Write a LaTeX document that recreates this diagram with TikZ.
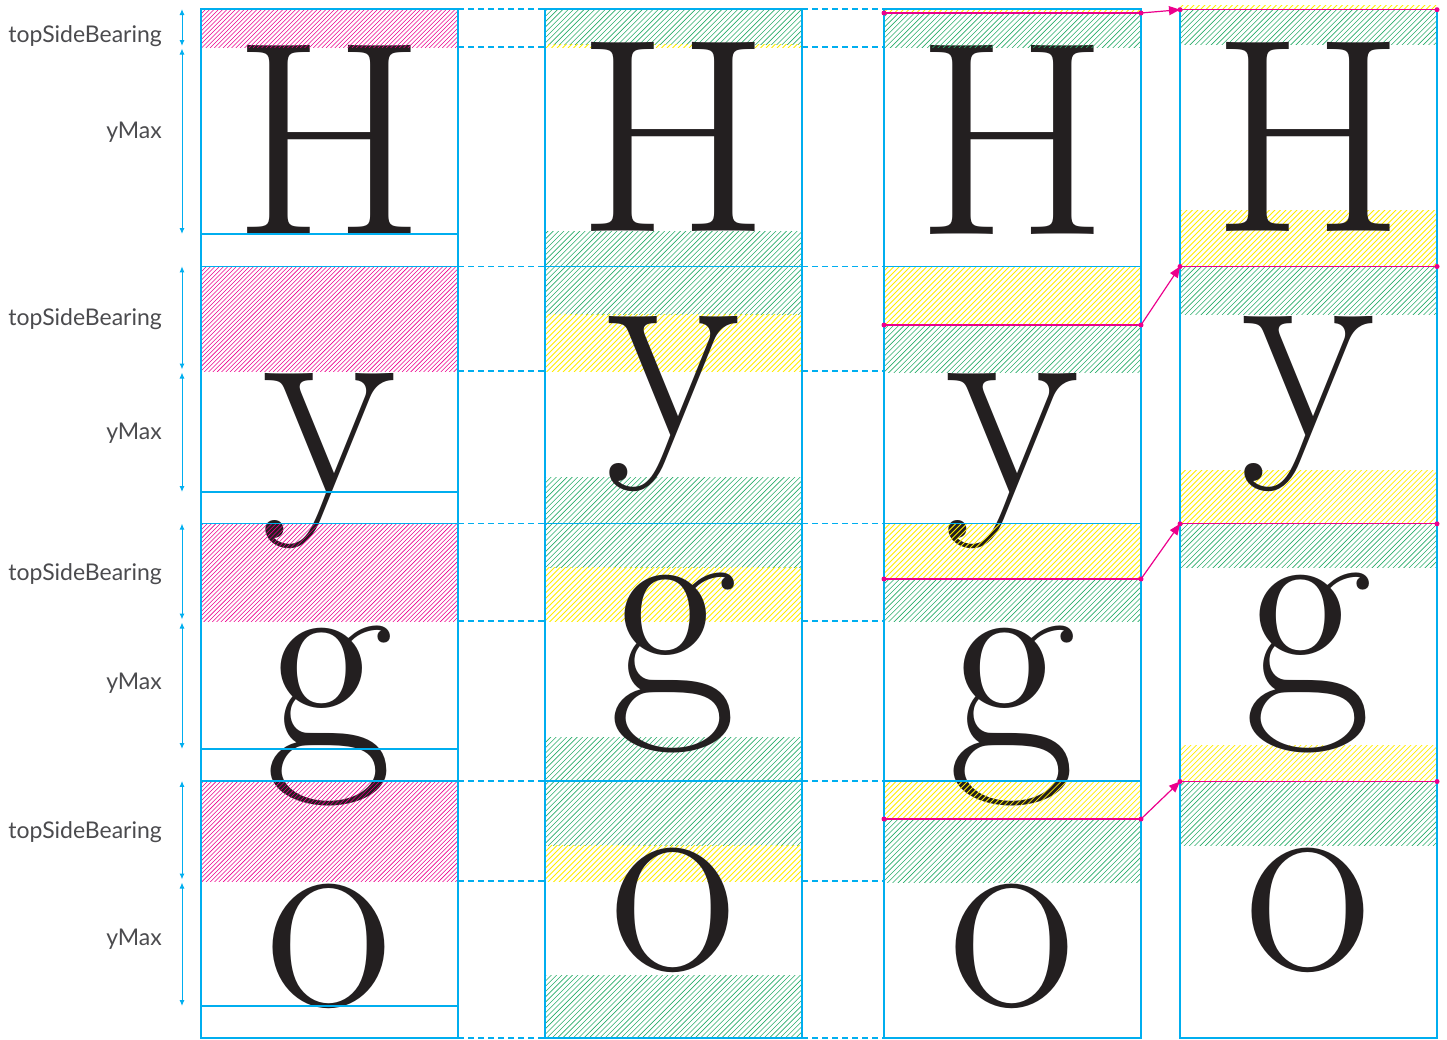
\documentclass[tikz,border=0pt]{standalone}
\usepackage{fontspec}
\newfontfamily\labelfont{Lato}
\usetikzlibrary{arrows.meta}
\definecolor{cy}{RGB}{0,174,239}
\definecolor{pk}{RGB}{236,0,140}
\definecolor{gr}{RGB}{40,172,105}
\definecolor{yl}{RGB}{255,236,0}
\definecolor{ink}{RGB}{35,31,32}
\definecolor{lbl}{RGB}{75,75,78}
\tikzset{
  pinkhatch/.style={draw=pk,line width=0.55pt},
  greenhatch/.style={draw=gr,line width=0.6pt},
  yellowhatch/.style={draw=yl,line width=0.75pt},
  glyph/.style={inner sep=0pt,outer sep=0pt,anchor=base,text=ink,font=\fontsize{277}{280}\selectfont},
  boxline/.style={draw=cy,line width=1.2pt},
  guide/.style={draw=cy,line width=1.3pt,dash pattern=on 6pt off 4pt},
  pinkline/.style={draw=pk,line width=1.3pt},
  pdot/.style={circle,fill=pk,inner sep=0pt,minimum size=5pt},
  dimarrow/.style={draw=cy,line width=1pt,{Latex[length=6pt,width=5pt]}-{Latex[length=6pt,width=5pt]}},
  lab/.style={anchor=base east,text=lbl,font=\labelfont\fontsize{23}{26}\selectfont,inner sep=0pt},
  pinkarrow/.style={draw=pk,line width=1.2pt,-{Triangle[length=11pt,width=9pt]}},
}
% #1 style, #2 spacing, #3 x1, #4 y1, #5 x2, #6 y2  (y grows downwards)
\newcommand\hatchbox[6]{%
  \begin{scope}
    \clip (#3,#4) rectangle (#5,#6);
    \pgfmathsetmacro\hcstart{ceil((#3+#4)/#2)*#2}
    \pgfmathsetmacro\hcnext{\hcstart+#2}
    \pgfmathsetmacro\hcend{#5+#6+#2}
    \foreach \hc in {\hcstart,\hcnext,...,\hcend}
      \draw[#1] (\hc-#6-1,#6+1) -- (\hc-#4+1,#4-1);
  \end{scope}}
\newcommand\pinkbox[4]{\hatchbox{pinkhatch}{4.3}{#1}{#2}{#3}{#4}}
\newcommand\greenbox[4]{\hatchbox{greenhatch}{5.3}{#1}{#2}{#3}{#4}}
\newcommand\yellowbox[4]{\hatchbox{yellowhatch}{5.5}{#1}{#2}{#3}{#4}}
\begin{document}
\begin{tikzpicture}[x=1pt,y=-1pt]
\useasboundingbox (0,0) rectangle (1447,1039);

% ---------- labels and dimension arrows ----------
\node[lab] (t1) at (162,42) {topSideBearing};
\node[lab] (m1) at (162,138) {yMax};
\node[lab] (t2) at (162,325) {topSideBearing};
\node[lab] (m2) at (162,439) {yMax};
\node[lab] (t3) at (162,580) {topSideBearing};
\node[lab] (m3) at (162,689) {yMax};
\node[lab] (t4) at (162,838) {topSideBearing};
\node[lab] (m4) at (162,945) {yMax};

\coordinate (a1) at (182,9);     \coordinate (b1) at (182,46);
\coordinate (c1) at (182,48.5);  \coordinate (d1) at (182,234);
\coordinate (a2) at (182,266.3); \coordinate (b2) at (182,369.5);
\coordinate (c2) at (182,372.5); \coordinate (d2) at (182,492);
\coordinate (a3) at (182,523.6); \coordinate (b3) at (182,619.5);
\coordinate (c3) at (182,622.5); \coordinate (d3) at (182,749);
\coordinate (a4) at (182,780.9); \coordinate (b4) at (182,879.5);
\coordinate (c4) at (182,882.5); \coordinate (d4) at (182,1006);
\foreach \i in {1,2,3,4}{
  \draw[dimarrow] (a\i) -- (b\i);
  \draw[dimarrow] (c\i) -- (d\i);
}

% ---------- column 1 ----------
\node[glyph] (g1h) at (329.5,234) {H};
\node[glyph] (g1y) at (329.5,492) {y};
\node[glyph] (g1g) at (329.5,749) {g};
\node[glyph] (g1o) at (329.5,1006) {o};
\pinkbox{201}{9}{458}{47}
\pinkbox{201}{266.3}{458}{371}
\pinkbox{201}{523.6}{458}{621}
\pinkbox{201}{780.9}{458}{881}
\draw[boxline] (201,9) rectangle (458,1038);
\foreach \yy in {266.3,523.6,780.9,234,492,749,1006}
  \draw[boxline] (201,\yy) -- (458,\yy);

% ---------- column 2 ----------
\greenbox{545}{9}{802}{44.5}
\yellowbox{545}{44.5}{802}{47}
\greenbox{545}{231.5}{802}{266.3}
\greenbox{545}{266.3}{802}{314}
\yellowbox{545}{314}{802}{371}
\greenbox{545}{477}{802}{523.6}
\greenbox{545}{523.6}{802}{567.5}
\yellowbox{545}{567.5}{802}{621}
\greenbox{545}{737.5}{802}{780.9}
\greenbox{545}{780.9}{802}{845}
\yellowbox{545}{845}{802}{881}
\greenbox{545}{975}{802}{1038}
\node[glyph] (g2h) at (673.5,231.5) {H};
\node[glyph] (g2y) at (673.5,435.5) {y};
\node[glyph] (g2g) at (673.5,696) {g};
\node[glyph] (g2o) at (673.5,970) {o};
\draw[boxline] (545,9) rectangle (802,1038);
\foreach \yy in {266.3,523.6,780.9}
  \draw[boxline] (545,\yy) -- (802,\yy);

% ---------- dashed guides ----------
\foreach \yy in {9,47,266.3,371,523.6,621,780.9,881,1038}{
  \draw[guide] (458,\yy) -- (545,\yy);
  \draw[guide] (802,\yy) -- (884,\yy);
}

% ---------- column 3 ----------
\node[glyph] (g3h) at (1012.5,234) {H};
\node[glyph] (g3y) at (1012.5,492) {y};
\node[glyph] (g3g) at (1012.5,749) {g};
\node[glyph] (g3o) at (1012.5,1006) {o};
\yellowbox{884}{9}{1141}{13}
\greenbox{884}{13}{1141}{47.5}
\yellowbox{884}{266.3}{1141}{325}
\greenbox{884}{325}{1141}{372}
\yellowbox{884}{523.6}{1141}{579}
\greenbox{884}{579}{1141}{621}
\yellowbox{884}{780.9}{1141}{819}
\greenbox{884}{819}{1141}{882}
\draw[boxline] (884,9) rectangle (1141,1038);
\foreach \yy in {266.3,523.6,780.9}
  \draw[boxline] (884,\yy) -- (1141,\yy);

% ---------- column 4 ----------
\yellowbox{1180}{5.5}{1437}{9.7}
\greenbox{1180}{9.7}{1437}{44.5}
\yellowbox{1180}{210}{1437}{266.5}
\greenbox{1180}{266.5}{1437}{314}
\yellowbox{1180}{470}{1437}{523.8}
\greenbox{1180}{523.8}{1437}{567.5}
\yellowbox{1180}{745}{1437}{781.5}
\greenbox{1180}{781.5}{1437}{845.5}
\node[glyph] (g4h) at (1308.5,231.5) {H};
\node[glyph] (g4y) at (1308.5,435.5) {y};
\node[glyph] (g4g) at (1308.5,696) {g};
\node[glyph] (g4o) at (1308.5,970) {o};
\draw[boxline] (1180,9) -- (1180,1038) -- (1437,1038) -- (1437,9);

% ---------- pink lines, dots and arrows ----------
\node[pdot] (p1l) at (884,13) {};     \node[pdot] (p1r) at (1141,13) {};
\node[pdot] (p2l) at (884,325) {};    \node[pdot] (p2r) at (1141,325) {};
\node[pdot] (p3l) at (884,579) {};    \node[pdot] (p3r) at (1141,579) {};
\node[pdot] (p4l) at (884,819) {};    \node[pdot] (p4r) at (1141,819) {};
\node[pdot] (q1l) at (1180,9.7) {};   \node[pdot] (q1r) at (1437,9.7) {};
\node[pdot] (q2l) at (1180,266.5) {}; \node[pdot] (q2r) at (1437,266.5) {};
\node[pdot] (q3l) at (1180,523.8) {}; \node[pdot] (q3r) at (1437,523.8) {};
\node[pdot] (q4l) at (1180,781.5) {}; \node[pdot] (q4r) at (1437,781.5) {};
\foreach \i in {1,2,3,4}{
  \draw[pinkline] (p\i l.center) -- (p\i r.center);
  \draw[pinkline] (q\i l.center) -- (q\i r.center);
  \draw[pinkarrow] (p\i r.center) -- (q\i l.center);
}
\end{tikzpicture}
\end{document}
